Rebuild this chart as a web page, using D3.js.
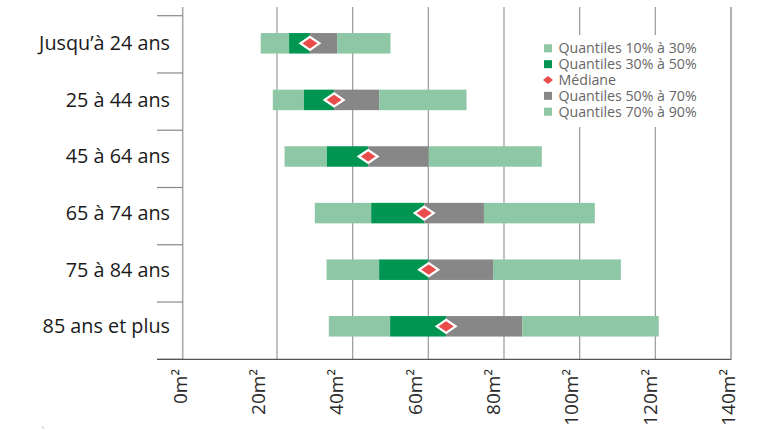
<!DOCTYPE html>
<html><head><meta charset="utf-8">
<script src="https://cdn.jsdelivr.net/npm/d3@7/dist/d3.min.js"></script>
<style>
html,body{margin:0;padding:0;background:#fff;}
svg{display:block;font-family:"Open Sans",sans-serif;}
</style></head>
<body><svg id="c" width="763" height="430"></svg>
<script>
const categories = ["Jusqu’à 24 ans","25 à 44 ans","45 à 64 ans","65 à 74 ans","75 à 84 ans","85 ans et plus"];
const p10 = [15.7, 18.9, 22.0, 30.0, 33.1, 33.7];
const p30 = [23.2, 27.1, 33.2, 44.9, 47.0, 49.9];
const p50 = [28.7, 35.1, 44.1, 58.9, 60.1, 64.7];
const p70 = [35.9, 47.0, 60.1, 74.7, 77.1, 84.8];
const p90 = [50.0, 70.1, 90.0, 104.0, 110.9, 120.9];
const tickValues = [0, 20, 40, 60, 80, 100, 120, 140];
const tickLabels = ["0m²","20m²","40m²","60m²","80m²","100m²","120m²","140m²"];
const legendLabels = ["Quantiles 10% à 30%","Quantiles 30% à 50%","Médiane","Quantiles 50% à 70%","Quantiles 70% à 90%"];

const cLight = "#8dc7a6", cDark = "#009651", cGray = "#878787", cRed = "#ea4b4b";

const svg = d3.select("#c");
const plotTop = 7, plotBottom = 359.3, axisX = 182.7;

const x = d3.scaleLinear().domain([-5, 140]).range([182.4, 731]);
const yTicks = d3.scaleBand().domain(categories).range([15.7, plotBottom]);
const yBars = d3.scaleBand().domain(categories).range([15, 354.6]);
const xLab = d3.scalePoint().domain(tickLabels).range([180, 728]);

// gridlines
svg.append("g").selectAll("line").data(tickValues.filter(v => v > 0)).join("line")
  .attr("x1", d => x(d)).attr("x2", d => x(d))
  .attr("y1", plotTop).attr("y2", plotBottom)
  .attr("stroke", "#9a9a9a").attr("stroke-width", 1.2);

// bars
const rows = categories.map((c, i) => ({c, p10: p10[i], p30: p30[i], p50: p50[i], p70: p70[i], p90: p90[i]}));
const bh = 20.5;
const segs = [["p10","p30",cLight],["p30","p50",cDark],["p50","p70",cGray],["p70","p90",cLight]];
const gb = svg.append("g");
rows.forEach(r => {
  const cy = yBars(r.c) + yBars.bandwidth() / 2;
  segs.forEach(([a, b, col]) => {
    gb.append("rect").attr("x", x(r[a])).attr("width", x(r[b]) - x(r[a]))
      .attr("y", cy - bh / 2).attr("height", bh).attr("fill", col);
  });
});
// medians
const dw = 9.5, dh = 6.5;
svg.append("g").selectAll("path").data(rows).join("path")
  .attr("d", d => {
    const cx = x(d.p50), cy = yBars(d.c) + yBars.bandwidth() / 2;
    return `M${cx - dw},${cy}L${cx},${cy - dh}L${cx + dw},${cy}L${cx},${cy + dh}Z`;
  })
  .attr("fill", cRed).attr("stroke", "#fff").attr("stroke-width", 2.2).attr("stroke-linejoin", "miter");

// left axis
svg.append("line").attr("x1", axisX).attr("x2", axisX).attr("y1", plotTop).attr("y2", plotBottom)
  .attr("stroke", "#aaa").attr("stroke-width", 1.6);
const bounds = categories.map(c => yTicks(c)).concat([plotBottom]);
svg.append("g").selectAll("line").data(bounds).join("line")
  .attr("x1", 157).attr("x2", axisX).attr("y1", d => d).attr("y2", d => d)
  .attr("stroke", "#888").attr("stroke-width", 1.2);
// bottom axis
svg.append("line").attr("x1", 157).attr("x2", 731.5).attr("y1", plotBottom).attr("y2", plotBottom)
  .attr("stroke", "#555").attr("stroke-width", 1.3);
svg.append("line").attr("x1", x(140)).attr("x2", x(140)).attr("y1", plotTop).attr("y2", plotBottom)
  .attr("stroke", "#aaa").attr("stroke-width", 1.6);

// y labels
svg.append("g").selectAll("text").data(categories).join("text")
  .attr("x", 170).attr("y", d => yBars(d) + yBars.bandwidth() / 2)
  .attr("dy", "0.35em").attr("text-anchor", "end")
  .attr("font-size", 19.8).attr("fill", "#1a1a1a").text(d => d);

// x tick labels
svg.append("g").selectAll("text").data(tickLabels).join("text")
  .attr("transform", d => `translate(${xLab(d)},369) rotate(-90)`)
  .attr("dy", "0.36em").attr("text-anchor", "end")
  .attr("font-size", 19).attr("fill", "#2a2a2a").text(d => d);

// legend
const lg = svg.append("g");
lg.append("rect").attr("x", 537).attr("y", 35).attr("width", 168).attr("height", 92).attr("fill", "#fff");
const legendColors = [cLight, cDark, cRed, cGray, cLight];
const ly = d3.scalePoint().domain(legendLabels.map((d, i) => i)).range([48.3, 111.7]);
legendLabels.forEach((t, i) => {
  const cy = ly(i);
  if (i === 2) {
    lg.append("path").attr("d", `M${543},${cy}L${548},${cy - 4}L${553},${cy}L${548},${cy + 4}Z`).attr("fill", cRed);
  } else {
    lg.append("rect").attr("x", 544).attr("y", cy - 4).attr("width", 8).attr("height", 8).attr("fill", legendColors[i]);
  }
  lg.append("text").attr("x", 558.5).attr("y", cy).attr("dy", "0.36em")
    .attr("font-size", 14.2).attr("fill", "#666").text(t);
});

// tiny source mark
svg.append("line").attr("x1", 42.5).attr("y1", 426.5).attr("x2", 43.5).attr("y2", 428.5)
  .attr("stroke", "#aaa").attr("stroke-width", 1);
</script></body></html>
